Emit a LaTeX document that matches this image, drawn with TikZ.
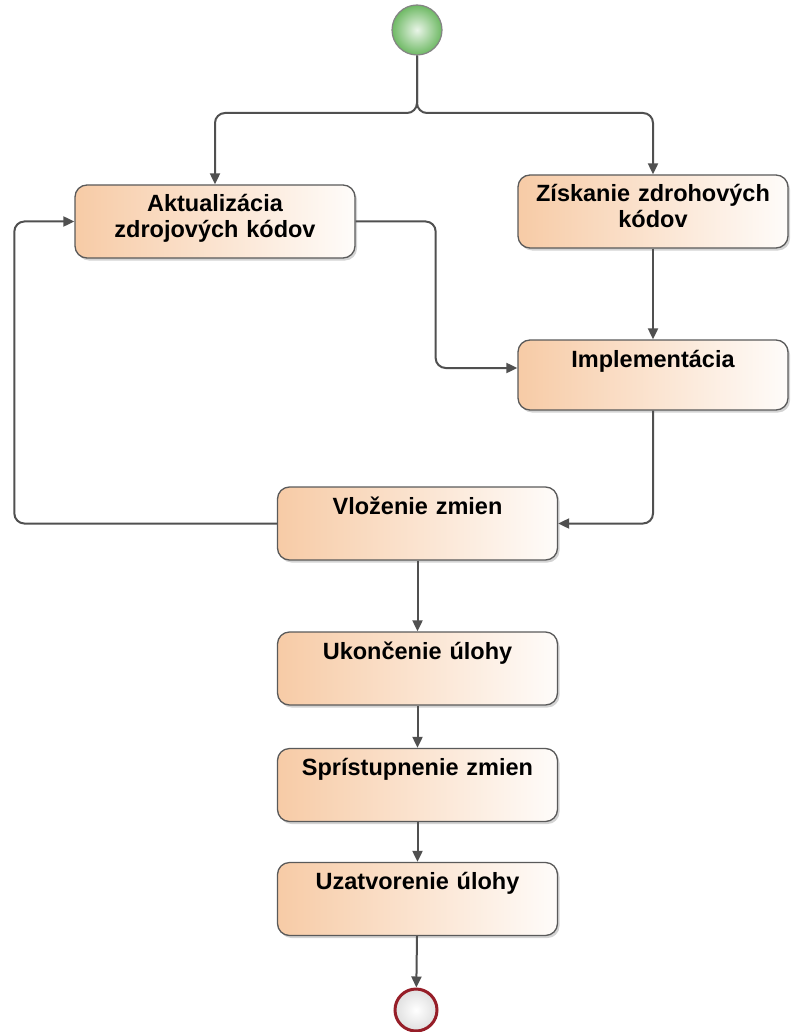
\documentclass[tikz,border=0pt]{standalone}
\usepackage{fontspec}
\setmainfont{Liberation Sans}
\usetikzlibrary{shapes,arrows.meta,positioning,calc,shadows}
\definecolor{actpeach}{RGB}{247,203,166}
\definecolor{actborder}{RGB}{90,90,90}
\definecolor{flowgray}{RGB}{80,80,80}
\definecolor{startgreen}{RGB}{110,185,100}
\definecolor{endred}{RGB}{150,30,40}

\tikzset{
    activity/.style={draw=actborder, line width=1.3pt, rectangle, rounded corners=12pt,
        left color=actpeach, right color=white!94!actpeach,
        drop shadow={shadow xshift=2pt, shadow yshift=-2.5pt, opacity=0.35},
        text width=260pt, inner xsep=10pt, inner ysep=0pt, align=center,
        text height=27pt, text depth=46pt,
        font=\fontsize{23.5}{25.5}\selectfont\bfseries},
    flow/.style={draw=flowgray, line width=2pt, rounded corners=10pt,
        -{Triangle[length=11pt,width=10pt]}}
}

\begin{document}
\begin{tikzpicture}[x=1pt, y=-1pt]
    \useasboundingbox (0,0) rectangle (791,1032);

    \node[circle, draw=flowgray!70, line width=1.2pt, minimum size=50pt, inner sep=0pt,
        inner color=white!85!startgreen, outer color=startgreen] (start) at (417,30) {};
    \node[circle, draw=endred, line width=3pt, minimum size=42pt, inner sep=0pt,
        inner color=white, outer color=gray!25] (end) at (416,1010) {};

    \node[activity] (aktual) at (215,221.5) {Aktualizácia\\zdrojových kódov};
    \node[activity, text width=250pt] (ziskanie) at (653,211.5) {Získanie zdrohových\\kódov};
    \node[activity, text width=250pt, text depth=43pt] (impl) at (653,375) {Implementácia};
    \node[activity] (vlozenie) at (417.5,523.5) {Vloženie zmien};
    \node[activity] (ukoncenie) at (417.5,668.5) {Ukončenie úlohy};
    \node[activity] (spristup) at (417.5,785) {Sprístupnenie zmien};
    \node[activity] (uzatv) at (417.5,899) {Uzatvorenie úlohy};

    \coordinate (fork) at (417,113);

    % fork after start
    \draw[flow] (start.south) -- (fork) -| (aktual.north);
    \draw[flow] (start.south) -- (fork) -| (ziskanie.north);

    \draw[flow] (ziskanie) -- (impl);
    \draw[flow] (aktual.east) -- ++(80,0) |- ([yshift=7pt]impl.west);
    \draw[flow] (impl.south) |- (vlozenie.east);
    % loop back
    \draw[flow] (vlozenie.west) -| ([xshift=-60pt]aktual.west) -- (aktual.west);

    \draw[flow] (vlozenie) -- (ukoncenie);
    \draw[flow] (ukoncenie) -- (spristup);
    \draw[flow] (spristup) -- (uzatv);
    \draw[flow] (uzatv) -- (end);
\end{tikzpicture}
\end{document}
